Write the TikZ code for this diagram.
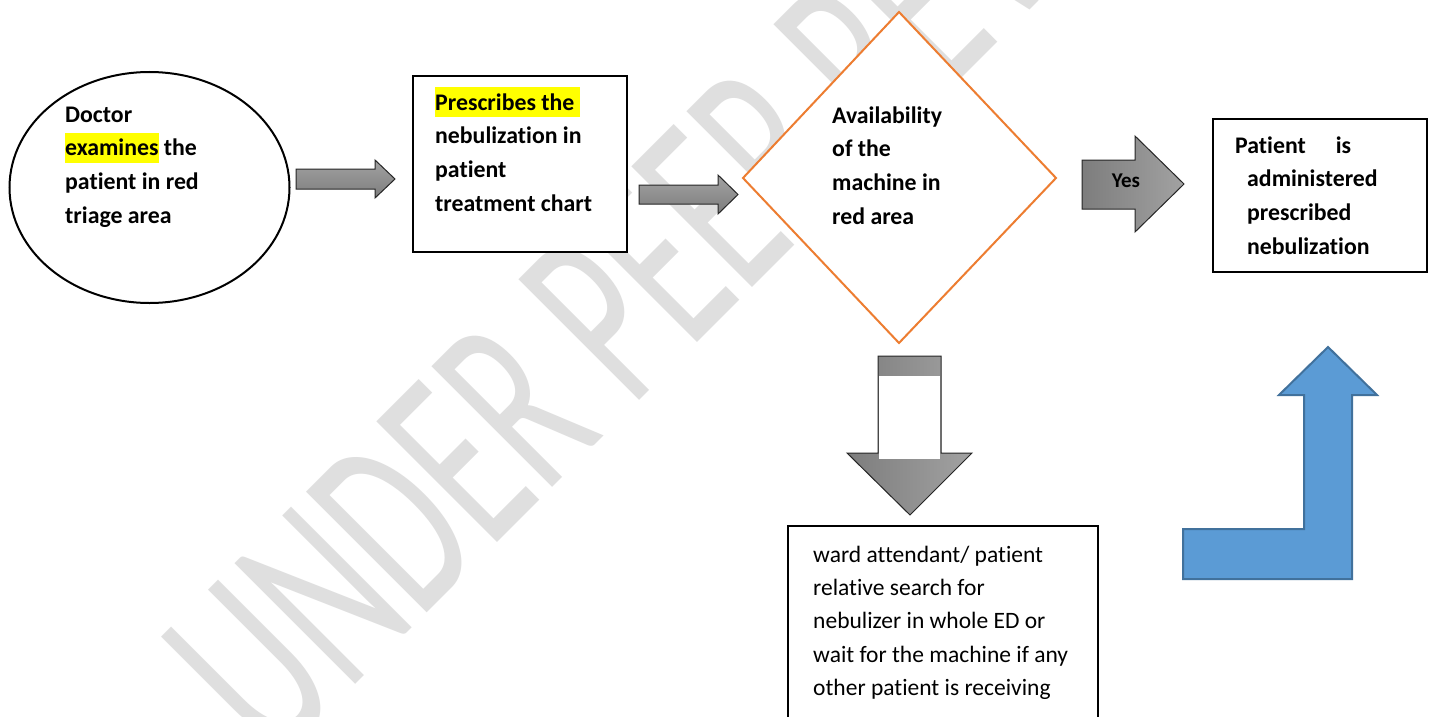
\documentclass[tikz,border=0pt]{standalone}
\usepackage{fontspec}
\setmainfont[Ligatures=NoCommon]{Carlito}
\usetikzlibrary{shapes.geometric}
\definecolor{orangeD}{RGB}{237,125,49}
\definecolor{blueF}{RGB}{91,155,213}
\definecolor{blueS}{RGB}{65,113,156}
\definecolor{wm}{RGB}{223,223,223}
\definecolor{hly}{RGB}{255,255,0}
\definecolor{gdark}{RGB}{125,125,125}
\definecolor{glight}{RGB}{162,162,162}
\newcommand{\hlt}[1]{{\setlength{\fboxsep}{0pt}\colorbox{hly}{\vrule height 23pt depth 7pt width 0pt #1}}}
\begin{document}
\begin{tikzpicture}[x=1pt,y=-1pt,
  txt/.style={font=\fontsize{23.8}{33.6}\selectfont\bfseries, align=left, anchor=north west, inner sep=0pt},
  rtxt/.style={font=\fontsize{23.5}{33.3}\selectfont, align=left, anchor=north west, inner sep=0pt},
  boxline/.style={draw=black, line width=2pt, fill=white, inner sep=0pt},
  grayarrow/.style={draw=black!85, line width=1pt, left color=gdark, right color=glight},
  grayarrowv/.style={draw=black!85, line width=1pt, top color=glight, bottom color=gdark},
  bluearrow/.style={draw=blueS, line width=2pt, fill=blueF}
]
\useasboundingbox (0,0) rectangle (1432,717);
\fill[white] (0,0) rectangle (1432,717);

% watermark
\node[font=\fontsize{266}{300}\selectfont, text=wm, rotate=45, anchor=base west, inner sep=0pt] (wmk) at (274.5,765.5) {\scalebox{0.6}[1]{UNDER PEER REVIEW}};

% ellipse
\node[boxline, ellipse, minimum width=280, minimum height=231] (doc) at (149.5,187.5) {};
\node[txt] (doctxt) at (65,122-23.52) {\strut Doctor\\\hlt{examines} the\\patient in red\\triage area};

% arrow 1
\draw[grayarrowv] (296,169) -- (375,169) -- (375,160) -- (395,179) -- (375,198) -- (375,189) -- (296,189) -- cycle;

% box 2
\node[boxline, line width=2.5pt, minimum width=214, minimum height=176] (presc) at (520,164) {};
\node[txt] (presctxt) at (435,110-23.52) {\strut\hlt{Prescribes the\ }\\nebulization in\\patient\\treatment chart};

% arrow 2
\draw[grayarrowv] (639,185) -- (718,185) -- (718,175) -- (738,194.5) -- (718,214) -- (718,204) -- (639,204) -- cycle;

% diamond
\coordinate (dT) at (899,12);
\coordinate (dR) at (1056,178);
\coordinate (dB) at (899,343);
\coordinate (dL) at (743,178);
\draw[draw=orangeD, line width=2pt, fill=white] (dT) -- (dR) -- (dB) -- (dL) -- cycle;
\node[txt] (availtxt) at (832,123-23.52) {\strut Availability\\of the\\machine in\\red area};

% yes arrow
\draw[grayarrow] (1082,160) -- (1135,160) -- (1135,136) -- (1184,184) -- (1135,232) -- (1135,209) -- (1082,209) -- cycle;
\node[font=\fontsize{21}{25}\selectfont\bfseries, inner sep=0pt, anchor=base] (yes) at (1126,187) {Yes};

% box 5
\node[boxline, minimum width=214, minimum height=153] (admin) at (1320,195) {};
\node[txt] (admintxt) at (1235,153-23.52) {\strut Patient\hspace{30pt}is\\\hspace*{12pt}administered\\\hspace*{12pt}prescribed\\\hspace*{12pt}nebulization};

% down arrow
\draw[grayarrow] (878,356) -- (941,356) -- (941,453) -- (972,453) -- (910,515) -- (847,453) -- (878,453) -- cycle;
\fill[white] (879,376) rectangle (940,459);

% box 6
\node[boxline, minimum width=310, minimum height=290] (search) at (943,671) {};
\node[rtxt] (searchtxt) at (813,562-23.31) {\strut ward attendant/ patient\\relative search for\\nebulizer in whole ED or\\wait for the machine if any\\other patient is receiving};

% blue arrow
\draw[bluearrow] (1183,529) -- (1304,529) -- (1304,395) -- (1279,395) -- (1328,347) -- (1377,395) -- (1352,395) -- (1352,579) -- (1183,579) -- cycle;
\end{tikzpicture}
\end{document}
